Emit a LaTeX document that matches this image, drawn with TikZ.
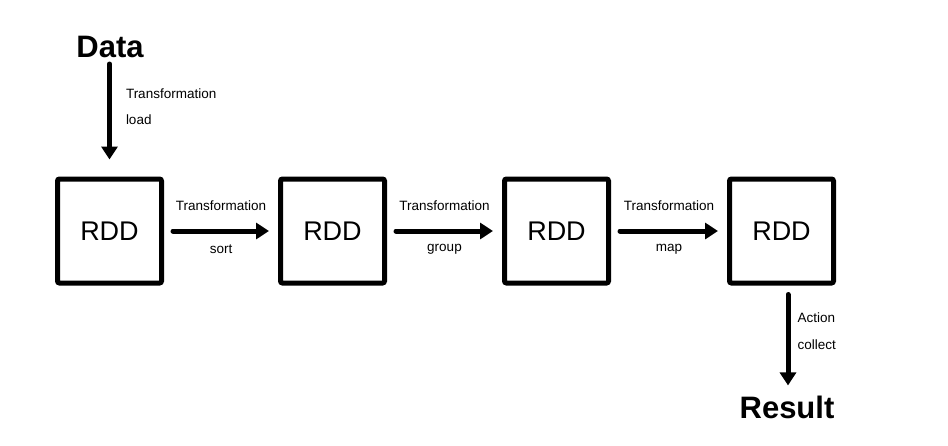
\documentclass[tikz,border=0pt]{standalone}
\usepackage{fontspec}
\setmainfont{Liberation Sans}
\usetikzlibrary{arrows.meta, positioning}

\tikzset{
  rdd/.style={draw, line width=5pt, rounded corners=2pt, minimum size=104pt, inner sep=0pt,
    font=\fontsize{27}{32}\selectfont},
  term/.style={font=\fontsize{31}{36}\selectfont\bfseries, inner sep=0pt},
  flow/.style={line width=5pt, line cap=round, -{Triangle[length=13pt, width=16pt]}},
  lbl/.style={font=\fontsize{13.5}{16}\selectfont, inner sep=0pt},
}

\begin{document}
\begin{tikzpicture}[x=1pt, y=-1pt]
  \useasboundingbox (0,0) rectangle (948,445);

  % the four RDD boxes
  \node[rdd] (rdd1) at (109.5,231) {RDD};
  \node[rdd] (rdd2) at (332.5,231) {RDD};
  \node[rdd] (rdd3) at (556.5,231) {RDD};
  \node[rdd] (rdd4) at (781.5,231) {RDD};

  \node[term] (data) at (110,47) {Data};
  \node[term] (result) at (787,407) {Result};

  % load
  \draw[flow, shorten <=6pt, shorten >=17pt] (data.south -| rdd1) -- (rdd1.north)
    node[lbl, anchor=west, pos=0.30, xshift=14pt] {Transformation}
    node[lbl, anchor=west, pos=0.52, xshift=14pt] {load};

  % transformations between boxes
  \draw[flow, shorten <=9pt, shorten >=9pt] (rdd1.east) -- (rdd2.west)
    node[lbl, midway, above=18pt] {Transformation}
    node[lbl, midway, below=11pt] {sort};
  \draw[flow, shorten <=9pt, shorten >=9pt] (rdd2.east) -- (rdd3.west)
    node[lbl, midway, above=18pt] {Transformation}
    node[lbl, midway, below=11pt] {group};
  \draw[flow, shorten <=9pt, shorten >=9pt] (rdd3.east) -- (rdd4.west)
    node[lbl, midway, above=18pt] {Transformation}
    node[lbl, midway, below=11pt] {map};

  % collect
  \draw[flow, shorten <=9pt, shorten >=10pt] ([xshift=6.5pt]rdd4.south) -- ([xshift=6.5pt]rdd4.south |- result.north)
    node[lbl, anchor=west, pos=0.29, xshift=7pt] {Action}
    node[lbl, anchor=west, pos=0.54, xshift=7pt] {collect};
\end{tikzpicture}
\end{document}
